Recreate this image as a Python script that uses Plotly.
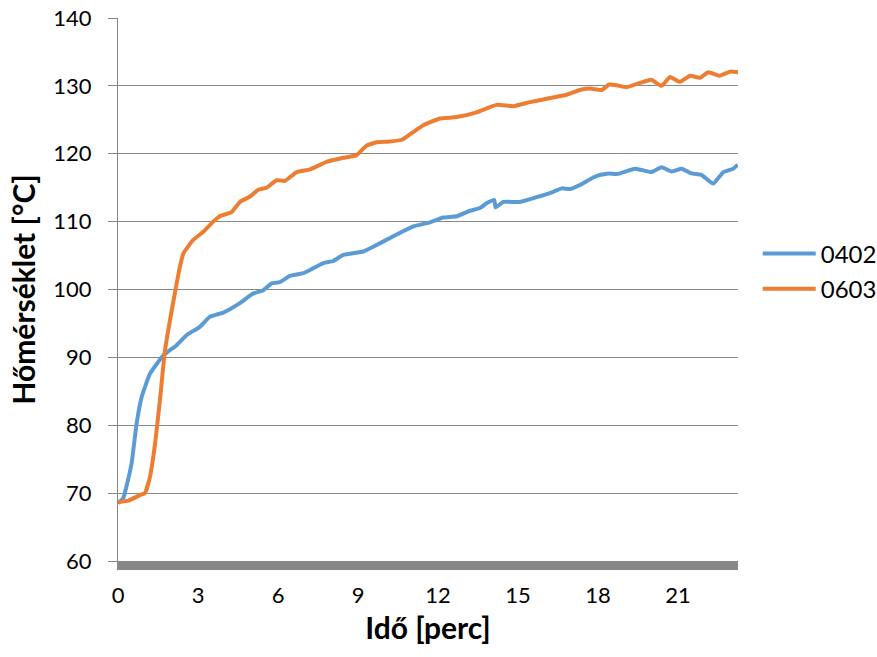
import plotly.graph_objects as go

# Time [min] and temperature [°C]
t_0402 = [0.00, 0.20, 0.33, 0.51, 0.70, 0.89, 1.20, 1.70, 2.20, 2.58, 3.07, 3.45, 3.95,
          4.57, 5.07, 5.45, 5.76, 6.07, 6.45, 6.95, 7.70, 8.07, 8.45, 9.20, 9.57, 10.20,
          10.45, 11.07, 11.70, 12.20, 12.70, 13.20, 13.57, 13.82, 14.11, 14.16, 14.45,
          15.07, 15.70, 16.32, 16.64, 16.95, 17.32, 17.82, 18.10, 18.42, 18.70, 19.40,
          20.00, 20.38, 20.76, 21.14, 21.50, 21.88, 22.32, 22.70, 23.07, 23.24]
y_0402 = [68.5, 69.3, 71.2, 74.4, 80.3, 84.2, 87.6, 90.3, 91.8, 93.3, 94.5, 96.0, 96.6,
          98.0, 99.4, 99.9, 100.9, 101.1, 102.0, 102.4, 103.9, 104.2, 105.1, 105.6, 106.3, 107.6,
          108.1, 109.3, 109.9, 110.6, 110.8, 111.6, 112.0, 112.7, 113.2, 112.1, 112.9,
          112.9, 113.6, 114.4, 114.9, 114.8, 115.4, 116.5, 116.9, 117.1, 117.0, 117.8,
          117.3, 118.0, 117.4, 117.8, 117.1, 116.9, 115.6, 117.3, 117.8, 118.4]

t_0603 = [0.00, 0.39, 0.82, 1.01, 1.20, 1.39, 1.57, 1.76, 1.95, 2.20, 2.32, 2.45, 2.82,
          3.20, 3.57, 3.82, 4.26, 4.57, 4.95, 5.26, 5.57, 5.95, 6.26, 6.70, 7.20, 7.82,
          8.45, 8.95, 9.32, 9.70, 10.20, 10.67, 11.07, 11.45, 12.07, 12.70, 13.45, 14.20,
          14.82, 15.45, 16.07, 16.82, 17.32, 17.70, 18.14, 18.42, 18.70, 19.07, 19.70,
          20.00, 20.38, 20.70, 21.07, 21.45, 21.82, 22.14, 22.57, 22.95, 23.25]
y_0603 = [68.7, 68.9, 69.7, 70.0, 72.4, 77.3, 83.6, 91.0, 95.5, 100.9, 103.3, 105.3, 107.3,
          108.5, 110.0, 110.8, 111.4, 112.9, 113.7, 114.7, 115.0, 116.1, 116.0, 117.3, 117.7, 118.8,
          119.4, 119.8, 121.2, 121.7, 121.8, 122.1, 123.2, 124.2, 125.2, 125.4, 126.1, 127.2,
          127.0, 127.6, 128.1, 128.7, 129.4, 129.6, 129.4, 130.2, 130.1, 129.8, 130.6,
          130.9, 130.0, 131.3, 130.6, 131.5, 131.2, 132.0, 131.5, 132.1, 132.0]

x_ticks = [0, 3, 6, 9, 12, 15, 18, 21]
y_ticks = [60, 70, 80, 90, 100, 110, 120, 130, 140]

FONT = "Lato"
GRID = "#878787"

fig = go.Figure()
fig.add_trace(go.Scatter(x=t_0402, y=y_0402, mode="lines", name="0402",
                         line=dict(color="#5B9BD5", width=4, shape="spline", smoothing=0.4),
                         legendgroup="a"))
fig.add_trace(go.Scatter(x=t_0603, y=y_0603, mode="lines", name="0603",
                         line=dict(color="#ED7D31", width=4, shape="spline", smoothing=0.4),
                         legendgroup="b"))

fig.update_layout(
    width=877, height=657,
    margin=dict(l=118, r=139, t=18, b=96, autoexpand=False),
    paper_bgcolor="white", plot_bgcolor="white",
    font=dict(family=FONT, size=22, color="black"),
    showlegend=True,
    legend=dict(xref="container", x=0.864, xanchor="left",
                yref="container", y=0.587, yanchor="middle",
                font=dict(family=FONT, size=24, color="black"),
                itemwidth=53, tracegroupgap=1, bgcolor="rgba(0,0,0,0)"),
    xaxis=dict(range=[0, 23.25], tickvals=x_ticks, ticktext=[str(v) for v in x_ticks],
               showgrid=False, zeroline=False, showline=True, linecolor="#888888",
               linewidth=9, ticks="", ticklabelstandoff=7, automargin=False,
               title=dict(text="<b>Idő [perc]</b>", font=dict(family=FONT, size=30), standoff=14)),
    yaxis=dict(range=[60, 140], tickvals=y_ticks, ticktext=[str(v) for v in y_ticks],
               showgrid=True, gridcolor=GRID, gridwidth=1.3, zeroline=False,
               showline=True, linecolor=GRID, linewidth=1.3,
               ticks="outside", ticklen=9, tickcolor=GRID, tickwidth=1.3,
               ticklabelstandoff=12, automargin=False,
               title=dict(text="<b>Hőmérséklet [°C]</b>", font=dict(family=FONT, size=30), standoff=8)),
)

fig.write_html("out.html")
